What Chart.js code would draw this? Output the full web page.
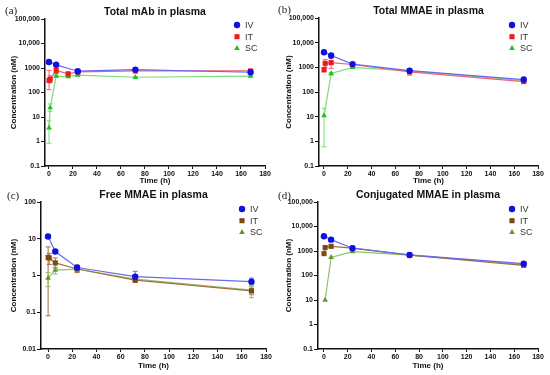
<!DOCTYPE html>
<html>
<head>
<meta charset="utf-8">
<script src="https://cdn.jsdelivr.net/npm/chart.js@4.4.0/dist/chart.umd.min.js"></script>
<style>
  body { margin: 0; background: #fff; }
  #wrap { position: relative; width: 550px; height: 375px; background: #fff; overflow: hidden; }
  #wrap canvas { position: absolute; }
  .tag { position: absolute; font-family: "Liberation Serif", "DejaVu Serif", serif; font-size: 11px; color: #222; }
</style>
</head>
<body>
<div id="wrap">
  <canvas id="pa" style="left:0;top:0" width="275" height="187"></canvas>
  <canvas id="pb" style="left:275px;top:0" width="275" height="187"></canvas>
  <canvas id="pc" style="left:0;top:185px" width="275" height="187"></canvas>
  <canvas id="pd" style="left:275px;top:185px" width="275" height="187"></canvas>
  <span class="tag" style="left:5px;top:4px">(a)</span>
  <span class="tag" style="left:278px;top:3px">(b)</span>
  <span class="tag" style="left:7px;top:189px">(c)</span>
  <span class="tag" style="left:278px;top:189px">(d)</span>
</div>
<script>
// groups / legend
const groups = ['IV', 'IT', 'SC'];

// axis ticks
const xTicks = [0, 20, 40, 60, 80, 100, 120, 140, 160, 180];
const yTicksWide = [0.1, 1, 10, 100, 1000, 10000, 100000];
const yLabelsWide = ['0.1', '1', '10', '100', '1000', '10,000', '100,000'];
const yTicksFree = [0.01, 0.1, 1, 10, 100];
const yLabelsFree = ['0.01', '0.1', '1', '10', '100'];

// (a) Total mAb in plasma
const mabIVTime = [0, 6, 24, 72, 168];
const mabIV = [1750, 1350, 740, 860, 670];
const mabITTime = [0.083, 1, 6, 16, 24, 72, 168];
const mabIT = [310, 350, 790, 580, 690, 760, 760];
const mabITLo = [130, 250, 600, 520, 620, 640, 680];
const mabITHi = [800, 480, 1000, 640, 760, 880, 840];
const mabSCTime = [0.083, 1, 6, 16, 24, 72, 168];
const mabSC = [3.6, 24, 470, 445, 510, 420, 470];
const mabSCLo = [0.85, 17, 420, 410, 470, 390, 430];
const mabSCHi = [7, 34, 530, 480, 550, 450, 510];

// (b) Total MMAE in plasma
const totIVTime = [0, 6, 24, 72, 168];
const totIV = [4100, 3000, 1350, 730, 320];
const totITTime = [0.083, 1, 6, 24, 72, 168];
const totIT = [800, 1450, 1550, 1300, 650, 265];
const totITLo = [650, 1000, 900, 1150, 480, 240];
const totITHi = [950, 2100, 2300, 1450, 850, 290];
const totSCTime = [0.083, 6, 24, 72, 168];
const totSC = [11, 560, 1000, 720, 290];
const totSCLo = [0.6, 500, 900, 650, 270];
const totSCHi = [22, 620, 1100, 800, 310];

// (c) Free MMAE in plasma
const freeIVTime = [0, 6, 24, 72, 168];
const freeIV = [11.5, 4.5, 1.65, 0.93, 0.68];
const freeIVLo = [10.5, 4.0, 1.5, 0.7, 0.55];
const freeIVHi = [12.5, 5.0, 1.8, 1.3, 0.85];
const freeITTime = [0.083, 1, 6, 24, 72, 168];
const freeIT = [3.1, 3.0, 2.2, 1.5, 0.75, 0.38];
const freeITLo = [0.08, 2.0, 1.6, 1.2, 0.65, 0.3];
const freeITHi = [6, 4, 3, 1.9, 0.85, 0.45];
const freeSCTime = [0.083, 6, 24, 72, 168];
const freeSC = [0.85, 1.4, 1.5, 0.8, 0.4];
const freeSCLo = [0.5, 1.1, 1.3, 0.7, 0.25];
const freeSCHi = [1.2, 1.7, 1.8, 0.9, 0.5];

// (d) Conjugated MMAE in plasma
const conjIVTime = [0, 6, 24, 72, 168];
const conjIV = [4000, 2900, 1300, 690, 305];
const conjITTime = [0.083, 1, 6, 24, 72, 168];
const conjIT = [780, 1380, 1550, 1300, 680, 260];
const conjSCTime = [1, 6, 24, 72, 168];
const conjSC = [10, 550, 940, 680, 280];

const FONT = '"Liberation Sans", Arial, sans-serif';

const paletteRed = {
  IV: { mark: '#1010e0', line: '#6a6af0', style: 'circle', r: 3.2 },
  IT: { mark: '#f01818', line: '#f0607a', style: 'rect', r: 3.6 },
  SC: { mark: '#22c022', line: '#7ade7a', style: 'triangle', r: 3.3 }
};
const paletteBrown = {
  IV: { mark: '#1010e0', line: '#6a6af0', style: 'circle', r: 3.2 },
  IT: { mark: '#7a4a12', line: '#a27040', style: 'rect', r: 3.6 },
  SC: { mark: '#5f9a25', line: '#95be6a', style: 'triangle', r: 3.3 }
};

function series(name, pal, t, v, lo, hi) {
  const c = pal[name];
  return {
    label: name,
    data: t.map((x, i) => ({ x: x, y: v[i] })),
    errLo: lo || null,
    errHi: hi || null,
    borderColor: c.line,
    backgroundColor: c.mark,
    pointBorderColor: c.mark,
    pointBackgroundColor: c.mark,
    pointBorderWidth: 0,
    pointStyle: c.style,
    pointRadius: c.r,
    borderWidth: 1.2,
    tension: 0
  };
}

// error bars from the errLo / errHi arrays
const errorBars = {
  id: 'errorBars',
  beforeDatasetsDraw(chart) {
    const ctx = chart.ctx;
    const ys = chart.scales.y;
    chart.data.datasets.forEach((ds, i) => {
      if (!ds.errLo) return;
      const meta = chart.getDatasetMeta(i);
      ctx.save();
      ctx.strokeStyle = ds.borderColor;
      ctx.lineWidth = 1;
      meta.data.forEach((pt, j) => {
        const y1 = ys.getPixelForValue(ds.errLo[j]);
        const y2 = ys.getPixelForValue(ds.errHi[j]);
        ctx.beginPath();
        ctx.moveTo(pt.x, y1); ctx.lineTo(pt.x, y2);
        ctx.moveTo(pt.x - 2.5, y1); ctx.lineTo(pt.x + 2.5, y1);
        ctx.moveTo(pt.x - 2.5, y2); ctx.lineTo(pt.x + 2.5, y2);
        ctx.stroke();
      });
      ctx.restore();
    });
  }
};

// legend drawn inside the top right corner
const cornerLegend = {
  id: 'cornerLegend',
  afterDraw(chart, args, opts) {
    const ctx = chart.ctx;
    chart.data.datasets.forEach((ds, i) => {
      const x = opts.x, y = opts.y + i * 11.7;
      ctx.save();
      ctx.fillStyle = ds.backgroundColor;
      ctx.strokeStyle = ds.backgroundColor;
      Chart.helpers.drawPoint(ctx, { pointStyle: ds.pointStyle, radius: ds.pointRadius, rotation: 0, borderWidth: 0 }, x, y);
      ctx.fillStyle = '#333';
      ctx.font = '9px ' + FONT;
      ctx.textBaseline = 'middle';
      ctx.fillText(ds.label, x + 8, y + 0.5);
      ctx.restore();
    });
  }
};

function makePanel(id, title, datasets, yVals, yLabels, box) {
  const cv = document.getElementById(id);
  const W = cv.width, H = cv.height;
  new Chart(cv, {
    type: 'line',
    data: { datasets: datasets },
    options: {
      responsive: false,
      animation: false,
      events: [],
      layout: { padding: { left: 0, right: W - box.right, top: 0, bottom: 0 } },
      plugins: {
        legend: { display: false },
        tooltip: { enabled: false },
        title: {
          display: true, text: title, fullSize: false, color: '#111',
          font: { family: FONT, size: 10.5, weight: 'bold', lineHeight: 1.2 },
          padding: { top: box.top - 13.6, bottom: 1 }
        },
        cornerLegend: { x: box.legX, y: box.legY }
      },
      scales: {
        x: {
          type: 'linear', min: box.xmin, max: 180,
          afterBuildTicks: s => { s.ticks = xTicks.map(v => ({ value: v })); },
          afterFit: s => { s.height = H - box.bottom; },
          border: { display: true, color: '#111', width: 1.5 },
          grid: { drawOnChartArea: false, drawTicks: true, tickLength: 3, color: '#111', lineWidth: 1 },
          ticks: { color: '#111', padding: 1, maxRotation: 0, font: { family: FONT, size: 7, weight: 'bold' } },
          title: { display: true, text: 'Time (h)', color: '#111', padding: { top: 0, bottom: 1 },
                   font: { family: FONT, size: 8, weight: 'bold' } }
        },
        y: {
          type: 'logarithmic', min: yVals[0], max: yVals[yVals.length - 1],
          afterBuildTicks: s => { s.ticks = yVals.map(v => ({ value: v })); },
          afterFit: s => { s.width = box.left; },
          border: { display: true, color: '#111', width: 1.5 },
          grid: { drawOnChartArea: false, drawTicks: true, tickLength: 4, color: '#111', lineWidth: 1 },
          ticks: {
            color: '#111', padding: 1, autoSkip: false,
            font: { family: FONT, size: 7, weight: 'bold' },
            callback: (v, i) => yLabels[i]
          },
          title: { display: true, text: 'Concentration (nM)', color: '#111', padding: { top: 9, bottom: 0 },
                   font: { family: FONT, size: 8, weight: 'bold' } }
        }
      }
    },
    plugins: [errorBars, cornerLegend]
  });
}

makePanel('pa', 'Total mAb in plasma', [
  series('IV', paletteRed, mabIVTime, mabIV),
  series('IT', paletteRed, mabITTime, mabIT, mabITLo, mabITHi),
  series('SC', paletteRed, mabSCTime, mabSC, mabSCLo, mabSCHi)
], yTicksWide, yLabelsWide, { left: 45, right: 265, top: 19, bottom: 166, xmin: -3.3, legX: 237, legY: 25 });

makePanel('pb', 'Total MMAE in plasma', [
  series('IV', paletteRed, totIVTime, totIV),
  series('IT', paletteRed, totITTime, totIT, totITLo, totITHi),
  series('SC', paletteRed, totSCTime, totSC, totSCLo, totSCHi)
], yTicksWide, yLabelsWide, { left: 44, right: 263, top: 18, bottom: 166, xmin: -4.2, legX: 237, legY: 25 });

makePanel('pc', 'Free MMAE in plasma', [
  series('IV', paletteBrown, freeIVTime, freeIV, freeIVLo, freeIVHi),
  series('IT', paletteBrown, freeITTime, freeIT, freeITLo, freeITHi),
  series('SC', paletteBrown, freeSCTime, freeSC, freeSCLo, freeSCHi)
], yTicksFree, yLabelsFree, { left: 41, right: 266, top: 17, bottom: 164, xmin: -5.8, legX: 242, legY: 24 });

makePanel('pd', 'Conjugated MMAE in plasma', [
  series('IV', paletteBrown, conjIVTime, conjIV),
  series('IT', paletteBrown, conjITTime, conjIT),
  series('SC', paletteBrown, conjSCTime, conjSC)
], yTicksWide, yLabelsWide, { left: 43, right: 263, top: 17, bottom: 164, xmin: -5, legX: 237, legY: 24 });
</script>
</body>
</html>
